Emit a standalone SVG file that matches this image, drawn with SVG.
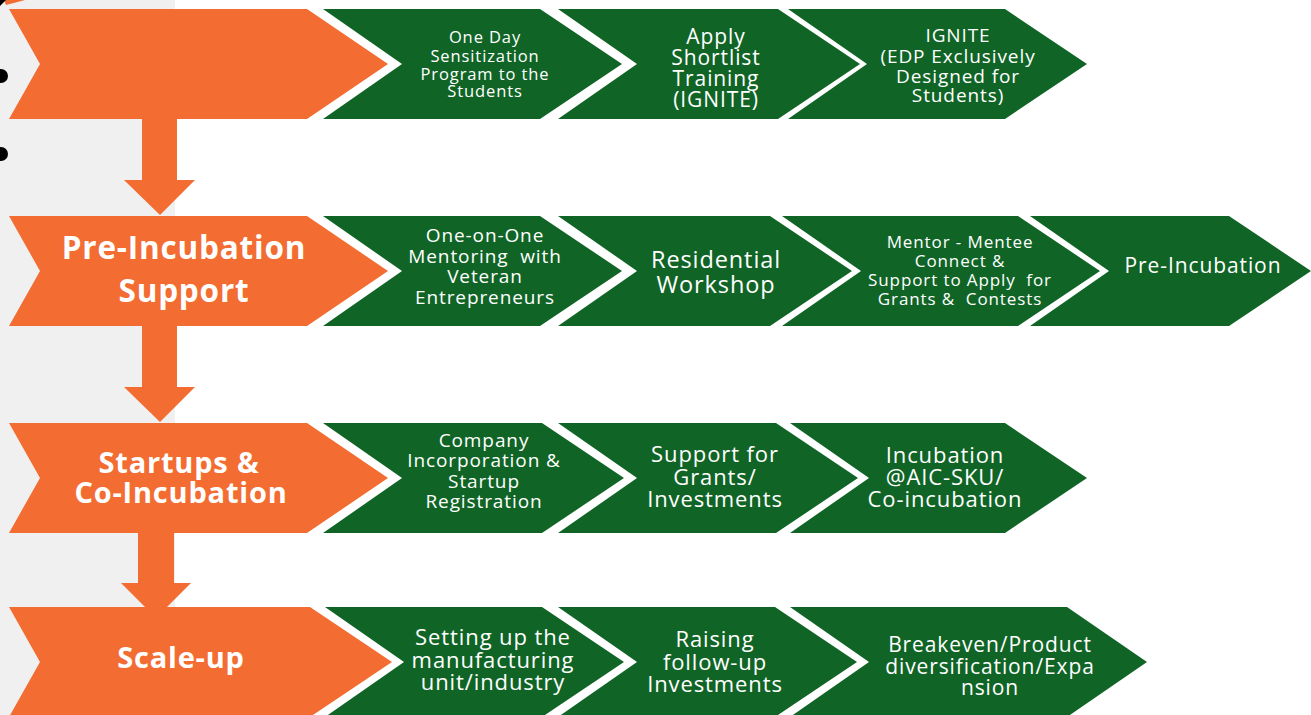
<svg xmlns="http://www.w3.org/2000/svg" width="1311" height="715" viewBox="0 0 1311 715">
<style>
.bg{fill:#f0f0f0}
.or{fill:#f36c31}
.gr{fill:#106526}
.t{font-family:"Open Sans","Liberation Sans",sans-serif;fill:#ffffff;text-anchor:middle;letter-spacing:0.9px}
.b{font-family:"Open Sans","Liberation Sans",sans-serif;font-weight:bold;fill:#ffffff;text-anchor:middle;letter-spacing:0.8px}
</style>
<rect x="0" y="0" width="1311" height="715" fill="#ffffff"/>
<rect class="bg" x="0" y="0" width="175" height="715"/>
<path d="M4,0 L25,0 Q14,3 6,5 Z" fill="#f36c31"/>
<path d="M0,6 Q3,3 6,0 L0,0 Z" fill="#000000"/>
<circle cx="1" cy="76" r="7" fill="#000000"/>
<circle cx="1" cy="154" r="7" fill="#000000"/>

<g id="connectors">
<polygon class="or" points="142,119 177,119 177,180 195,180 160,215 124,180 142,180"/>
<polygon class="or" points="142,326 177,326 177,387 195,387 160,422 124,387 142,387"/>
<polygon class="or" points="138,533 174,533 174,583 191,583 156,618 121,583 138,583"/>
</g>

<g id="row1-awareness">
<polygon class="or" points="9,9 307,9 388,64 307,119 9,119 40,64"/>
</g>
<g id="row1-sensitization">
<polygon class="gr" points="323,9 540,9 622,64 540,119 323,119 402,64"/>
<text class="t" font-size="16.5" x="485"><tspan x="485" y="43">One Day</tspan><tspan x="485" y="62">Sensitization</tspan><tspan x="485" y="80">Program to the</tspan><tspan x="485" y="97">Students</tspan></text>
</g>
<g id="row1-apply">
<polygon class="gr" points="558,9 778,9 860,64 778,119 558,119 637,64"/>
<text class="t" font-size="21" x="716"><tspan x="716" y="44">Apply</tspan><tspan x="716" y="65">Shortlist</tspan><tspan x="716" y="86">Training</tspan><tspan x="716" y="107">(IGNITE)</tspan></text>
</g>
<g id="row1-ignite">
<polygon class="gr" points="788,9 1005,9 1087,64 1005,119 788,119 867,64"/>
<text class="t" font-size="19" x="958"><tspan x="958" y="42">IGNITE</tspan><tspan x="958" y="63">(EDP Exclusively</tspan><tspan x="958" y="83">Designed for</tspan><tspan x="958" y="102">Students)</tspan></text>
</g>

<g id="row2-preincubation-support">
<polygon class="or" points="9,216 307,216 388,271 307,326 9,326 40,271"/>
<text class="b" font-size="31.5" x="184"><tspan x="184" y="259">Pre-Incubation</tspan><tspan x="184" y="302">Support</tspan></text>
</g>
<g id="row2-mentoring">
<polygon class="gr" points="323,216 540,216 622,271 540,326 323,326 402,271"/>
<text class="t" font-size="19" x="485" xml:space="preserve"><tspan x="485" y="242">One-on-One</tspan><tspan x="485" y="263">Mentoring  with</tspan><tspan x="485" y="283">Veteran</tspan><tspan x="485" y="304">Entrepreneurs</tspan></text>
</g>
<g id="row2-workshop">
<polygon class="gr" points="558,216 770,216 852,271 770,326 558,326 637,271"/>
<text class="t" font-size="23.5" x="716"><tspan x="716" y="268">Residential</tspan><tspan x="716" y="293">Workshop</tspan></text>
</g>
<g id="row2-mentor-mentee">
<polygon class="gr" points="782,216 1018,216 1100,271 1018,326 782,326 861,271"/>
<text class="t" font-size="17" x="960" xml:space="preserve"><tspan x="960" y="248">Mentor - Mentee</tspan><tspan x="960" y="267">Connect &amp;</tspan><tspan x="960" y="286">Support to Apply  for</tspan><tspan x="960" y="305">Grants &amp;  Contests</tspan></text>
</g>
<g id="row2-preincubation">
<polygon class="gr" points="1030,216 1229,216 1311,271 1229,326 1030,326 1109,271"/>
<text class="t" font-size="21" x="1203" y="273">Pre-Incubation</text>
</g>

<g id="row3-startups">
<polygon class="or" points="9,423 307,423 388,478 307,533 9,533 40,478"/>
<text class="b" font-size="29" x="180"><tspan x="179" y="473">Startups &amp;</tspan><tspan x="181" y="503">Co-Incubation</tspan></text>
</g>
<g id="row3-company">
<polygon class="gr" points="323,423 542,423 624,478 542,533 323,533 402,478"/>
<text class="t" font-size="19" x="484"><tspan x="484" y="447">Company</tspan><tspan x="484" y="467">Incorporation &amp;</tspan><tspan x="484" y="488">Startup</tspan><tspan x="484" y="508">Registration</tspan></text>
</g>
<g id="row3-grants">
<polygon class="gr" points="558,423 776,423 858,478 776,533 558,533 637,478"/>
<text class="t" font-size="22" x="715"><tspan x="715" y="462">Support for</tspan><tspan x="715" y="485">Grants/</tspan><tspan x="715" y="507">Investments</tspan></text>
</g>
<g id="row3-incubation">
<polygon class="gr" points="790,423 1005,423 1087,478 1005,533 790,533 869,478"/>
<text class="t" font-size="22" x="945"><tspan x="945" y="463">Incubation</tspan><tspan x="945" y="485">@AIC-SKU/</tspan><tspan x="945" y="507">Co-incubation</tspan></text>
</g>

<g id="row4-scaleup">
<polygon class="or" points="9,607 310,607 392,662 310,717 9,717 40,662"/>
<text class="b" font-size="29" x="181" y="668">Scale-up</text>
</g>
<g id="row4-manufacturing">
<polygon class="gr" points="325,607 542,607 624,662 542,717 325,717 404,662"/>
<text class="t" font-size="22" x="493"><tspan x="493" y="645">Setting up the</tspan><tspan x="493" y="668">manufacturing</tspan><tspan x="493" y="690">unit/industry</tspan></text>
</g>
<g id="row4-investments">
<polygon class="gr" points="558,607 775,607 857,662 775,717 558,717 637,662"/>
<text class="t" font-size="22" x="715"><tspan x="715" y="647">Raising</tspan><tspan x="715" y="670">follow-up</tspan><tspan x="715" y="692">Investments</tspan></text>
</g>
<g id="row4-expansion">
<polygon class="gr" points="790,607 1067,607 1147,662 1067,717 790,717 869,662"/>
<text class="t" font-size="21" x="990"><tspan x="990" y="652">Breakeven/Product</tspan><tspan x="990" y="674">diversification/Expa</tspan><tspan x="990" y="695">nsion</tspan></text>
</g>
</svg>
